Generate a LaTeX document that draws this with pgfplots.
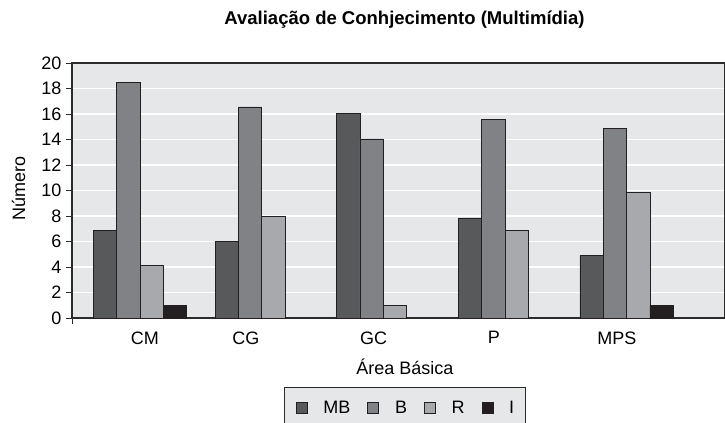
\documentclass[border=0pt]{standalone}
\usepackage{pgfplots}
\pgfplotsset{compat=1.18}
\usepackage{fontspec}
\setmainfont{Liberation Sans}
\definecolor{cMB}{HTML}{58595B}
\definecolor{cB}{HTML}{808285}
\definecolor{cR}{HTML}{A7A9AC}
\definecolor{cI}{HTML}{231F20}
\definecolor{bgc}{HTML}{E6E7E8}
\definecolor{edge}{HTML}{2B2B2C}
\begin{document}
\begin{tikzpicture}
\useasboundingbox (0,0) rectangle (725bp,423bp);
\clip (0,0) rectangle (725bp,423bp);
\begin{axis}[
  at={(72bp,105bp)}, anchor=south west,
  scale only axis,
  width=653bp, height=255bp,
  xmin=-0.56, xmax=4.81,
  ymin=0, ymax=20,
  ytick={0,2,...,20},
  xtick={0.04,0.87,1.92,2.91,3.92},
  xticklabels={CM,CG,GC,P,MPS},
  x tick style={draw=none},
  tick align=outside,
  major tick length=6bp,
  y tick style={line width=0.8pt, color=edge},
  ymajorgrids,
  grid style={white, line width=1.6pt},
  axis background/.style={fill=bgc},
  axis line style={line width=1.2pt, color=edge},
  tick label style={font=\fontsize{18bp}{20bp}\selectfont},
  /pgf/number format/assume math mode=true,
  yticklabel style={xshift=-1bp},
  xticklabel style={yshift=-4bp},
  ybar, bar width=0.192,
  every axis plot/.append style={draw=cI, line width=0.6pt},
  legend columns=4,
  legend style={at={(0.51,-0.272)}, anchor=north, fill=bgc, draw=edge, line width=0.8pt,
    font=\fontsize{18bp}{20bp}\selectfont, inner xsep=11bp, inner ysep=12bp,
    nodes={inner xsep=0pt, inner ysep=1bp},
    /tikz/every odd column/.append style={column sep=16bp},
    /tikz/every even column/.append style={column sep=17bp}},
  legend image code/.code={\draw[#1, line width=0.6pt] (0bp,-5.5bp) rectangle (11bp,5.5bp);},
  clip=false,
]
\addplot[fill=cMB, bar shift=-0.288] coordinates {(0,6.9) (1,6.0) (2,16.05) (3,7.85) (4,4.9)};
\addplot[fill=cB, bar shift=-0.096] coordinates {(0,18.45) (1,16.55) (2,14.05) (3,15.6) (4,14.85)};
\addplot[fill=cR, bar shift=0.096] coordinates {(0,4.1) (1,7.95) (2,1.0) (3,6.85) (4,9.85)};
\addplot[fill=cI, bar shift=0.288] coordinates {(0,1.0) (4,1.0)};
\legend{MB,B,R,I}
\draw[edge, line width=0.8pt] (rel axis cs:0,0) -- ([yshift=-6bp]rel axis cs:0,0);
\end{axis}
\node[anchor=base, font=\bfseries\fontsize{18.5bp}{20bp}\selectfont] at (404.5bp,398bp) {Avaliação de Conhjecimento (Multimídia)};
\node[anchor=base, rotate=90, font=\fontsize{18bp}{20bp}\selectfont] at (25bp,235bp) {Número};
\node[anchor=base, font=\fontsize{18bp}{20bp}\selectfont] at (405bp,48bp) {Área Básica};
\end{tikzpicture}
\end{document}
